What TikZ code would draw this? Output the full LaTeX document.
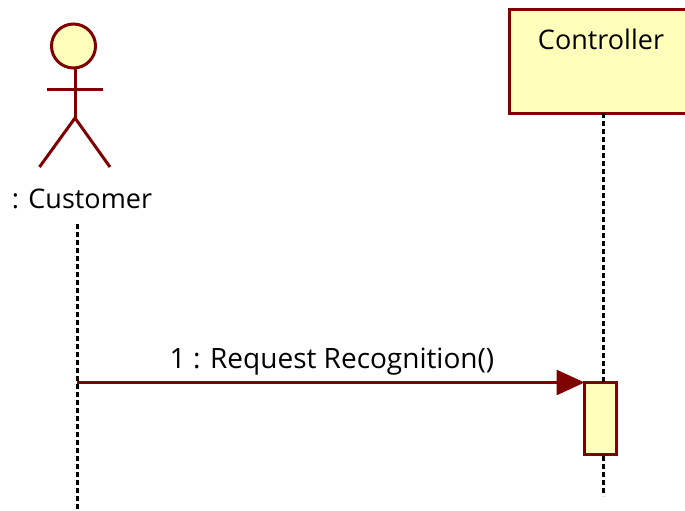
\documentclass[tikz,border=0pt]{standalone}
\usepackage{fontspec}
\usepackage{xcolor}
\setmainfont{Open Sans}
\usetikzlibrary{arrows.meta}
\definecolor{umlred}{HTML}{800000}
\definecolor{umlfill}{HTML}{FFFFBB}
\tikzset{
  umlline/.style={draw=umlred, line width=3pt},
  umlbox/.style={umlline, fill=umlfill, rectangle, inner sep=0pt, outer sep=0pt},
  lifeline/.style={black, line width=3pt, dash pattern=on 5pt off 3pt},
  umltext/.style={black, font=\fontsize{27}{30}\selectfont, inner sep=0pt},
}
\begin{document}
\begin{tikzpicture}[x=1pt,y=-1pt]
\useasboundingbox (0,0) rectangle (685,511);
%1. mark the important points
\coordinate (neck) at (75, 68);
\coordinate (hip) at (75, 118);
\coordinate (armL) at (47, 89);
\coordinate (armR) at (103, 89);
\coordinate (legL) at (39.5, 167);
\coordinate (legR) at (110, 167);
\coordinate (customerTop) at (77, 224);
\coordinate (customerEnd) at (77, 509);
\coordinate (controllerEnd) at (603, 496);
\coordinate (msgStart) at (77, 382.5);
%2. lifelines, drawn under the boxes
\draw[lifeline] (customerTop) -- (customerEnd);
\node[umlbox, minimum width=200pt, minimum height=103pt, anchor=north west] (controller) at (509, 10) {};
\node[umlbox, minimum width=32pt, minimum height=72pt, anchor=north west] (activation) at (584.5, 382.5) {};
\draw[lifeline] (603, 113) -- (603, 382);
\draw[lifeline] (603, 456) -- (controllerEnd);
%3. the actor
\node[umlbox, circle, minimum size=44pt] (head) at (73.5, 46) {};
\draw[umlline] (neck) -- (hip);
\draw[umlline] (armL) -- (armR);
\draw[umlline] (legL) -- (hip) -- (legR);
%4. labels and the message
\node[umltext] (customerLabel) at (82, 199) {: Customer};
\node[umltext] (controllerLabel) at (601, 39) {Controller};
\node[umltext, font=\fontsize{28}{30}\selectfont] (msgLabel) at (332, 362) {1 : Request Recognition()};
\draw[umlline, -{Triangle[length=28pt, width=25pt]}] (msgStart) -- (activation.north west);
\end{tikzpicture}
\end{document}
